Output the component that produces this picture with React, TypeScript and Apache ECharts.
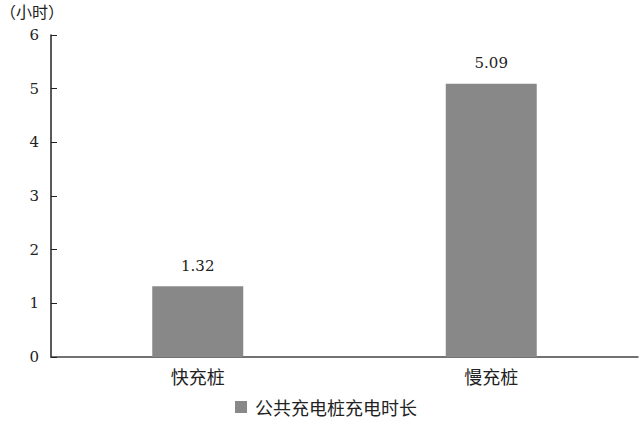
import React, { useEffect, useRef } from 'react';
import * as echarts from 'echarts';

const categories = ['快充桩', '慢充桩'];
const durations = [1.32, 5.09];
const seriesName = '公共充电桩充电时长';
const unitLabel = '（小时）';

const serif = 'DejaVu Serif';
const cjk = 'Noto Sans CJK SC';

const App = () => {
    const ref = useRef<HTMLDivElement>(null);

    useEffect(() => {
        const chart = echarts.init(ref.current as HTMLDivElement, undefined, { renderer: 'svg' });
        chart.setOption({
            animation: false,
            backgroundColor: '#fff',
            textStyle: { fontFamily: serif },
            title: {
                text: unitLabel,
                left: 0,
                top: 3,
                padding: 0,
                textStyle: { fontFamily: cjk, fontSize: 16, fontWeight: 'normal', color: '#222' }
            },
            grid: { left: 51, right: 2, top: 35, bottom: 66 },
            legend: {
                data: [seriesName],
                left: 235,
                top: 398,
                padding: 0,
                itemWidth: 12,
                itemHeight: 12,
                icon: 'rect',
                textStyle: { fontFamily: cjk, fontSize: 18, color: '#222', padding: [0, 0, 0, 3] }
            },
            xAxis: {
                type: 'category',
                data: categories,
                axisLine: { lineStyle: { color: '#444', width: 1.5 } },
                axisTick: { inside: true, length: 6, lineStyle: { color: '#222' } },
                axisLabel: { fontFamily: cjk, fontSize: 18, color: '#222', margin: 10 }
            },
            yAxis: {
                type: 'value',
                min: 0,
                max: 6,
                interval: 1,
                splitLine: { show: false },
                axisLine: { show: true, lineStyle: { color: '#222', width: 1.5 } },
                axisTick: { show: true, inside: true, length: 6, lineStyle: { color: '#222' } },
                axisLabel: { fontFamily: serif, fontSize: 15, color: '#222', margin: 12 }
            },
            series: [
                {
                    name: seriesName,
                    type: 'bar',
                    data: durations,
                    barWidth: '31%',
                    itemStyle: { color: '#888888' },
                    label: {
                        show: true,
                        position: 'top',
                        distance: 13,
                        fontFamily: serif,
                        fontSize: 15,
                        color: '#222',
                        formatter: (p: any) => p.value.toFixed(2)
                    }
                }
            ]
        });
        return () => chart.dispose();
    }, []);

    return <div ref={ref} style={{ width: 640, height: 423, position: 'absolute', left: 0, top: 0 }} />;
};

export default App;
